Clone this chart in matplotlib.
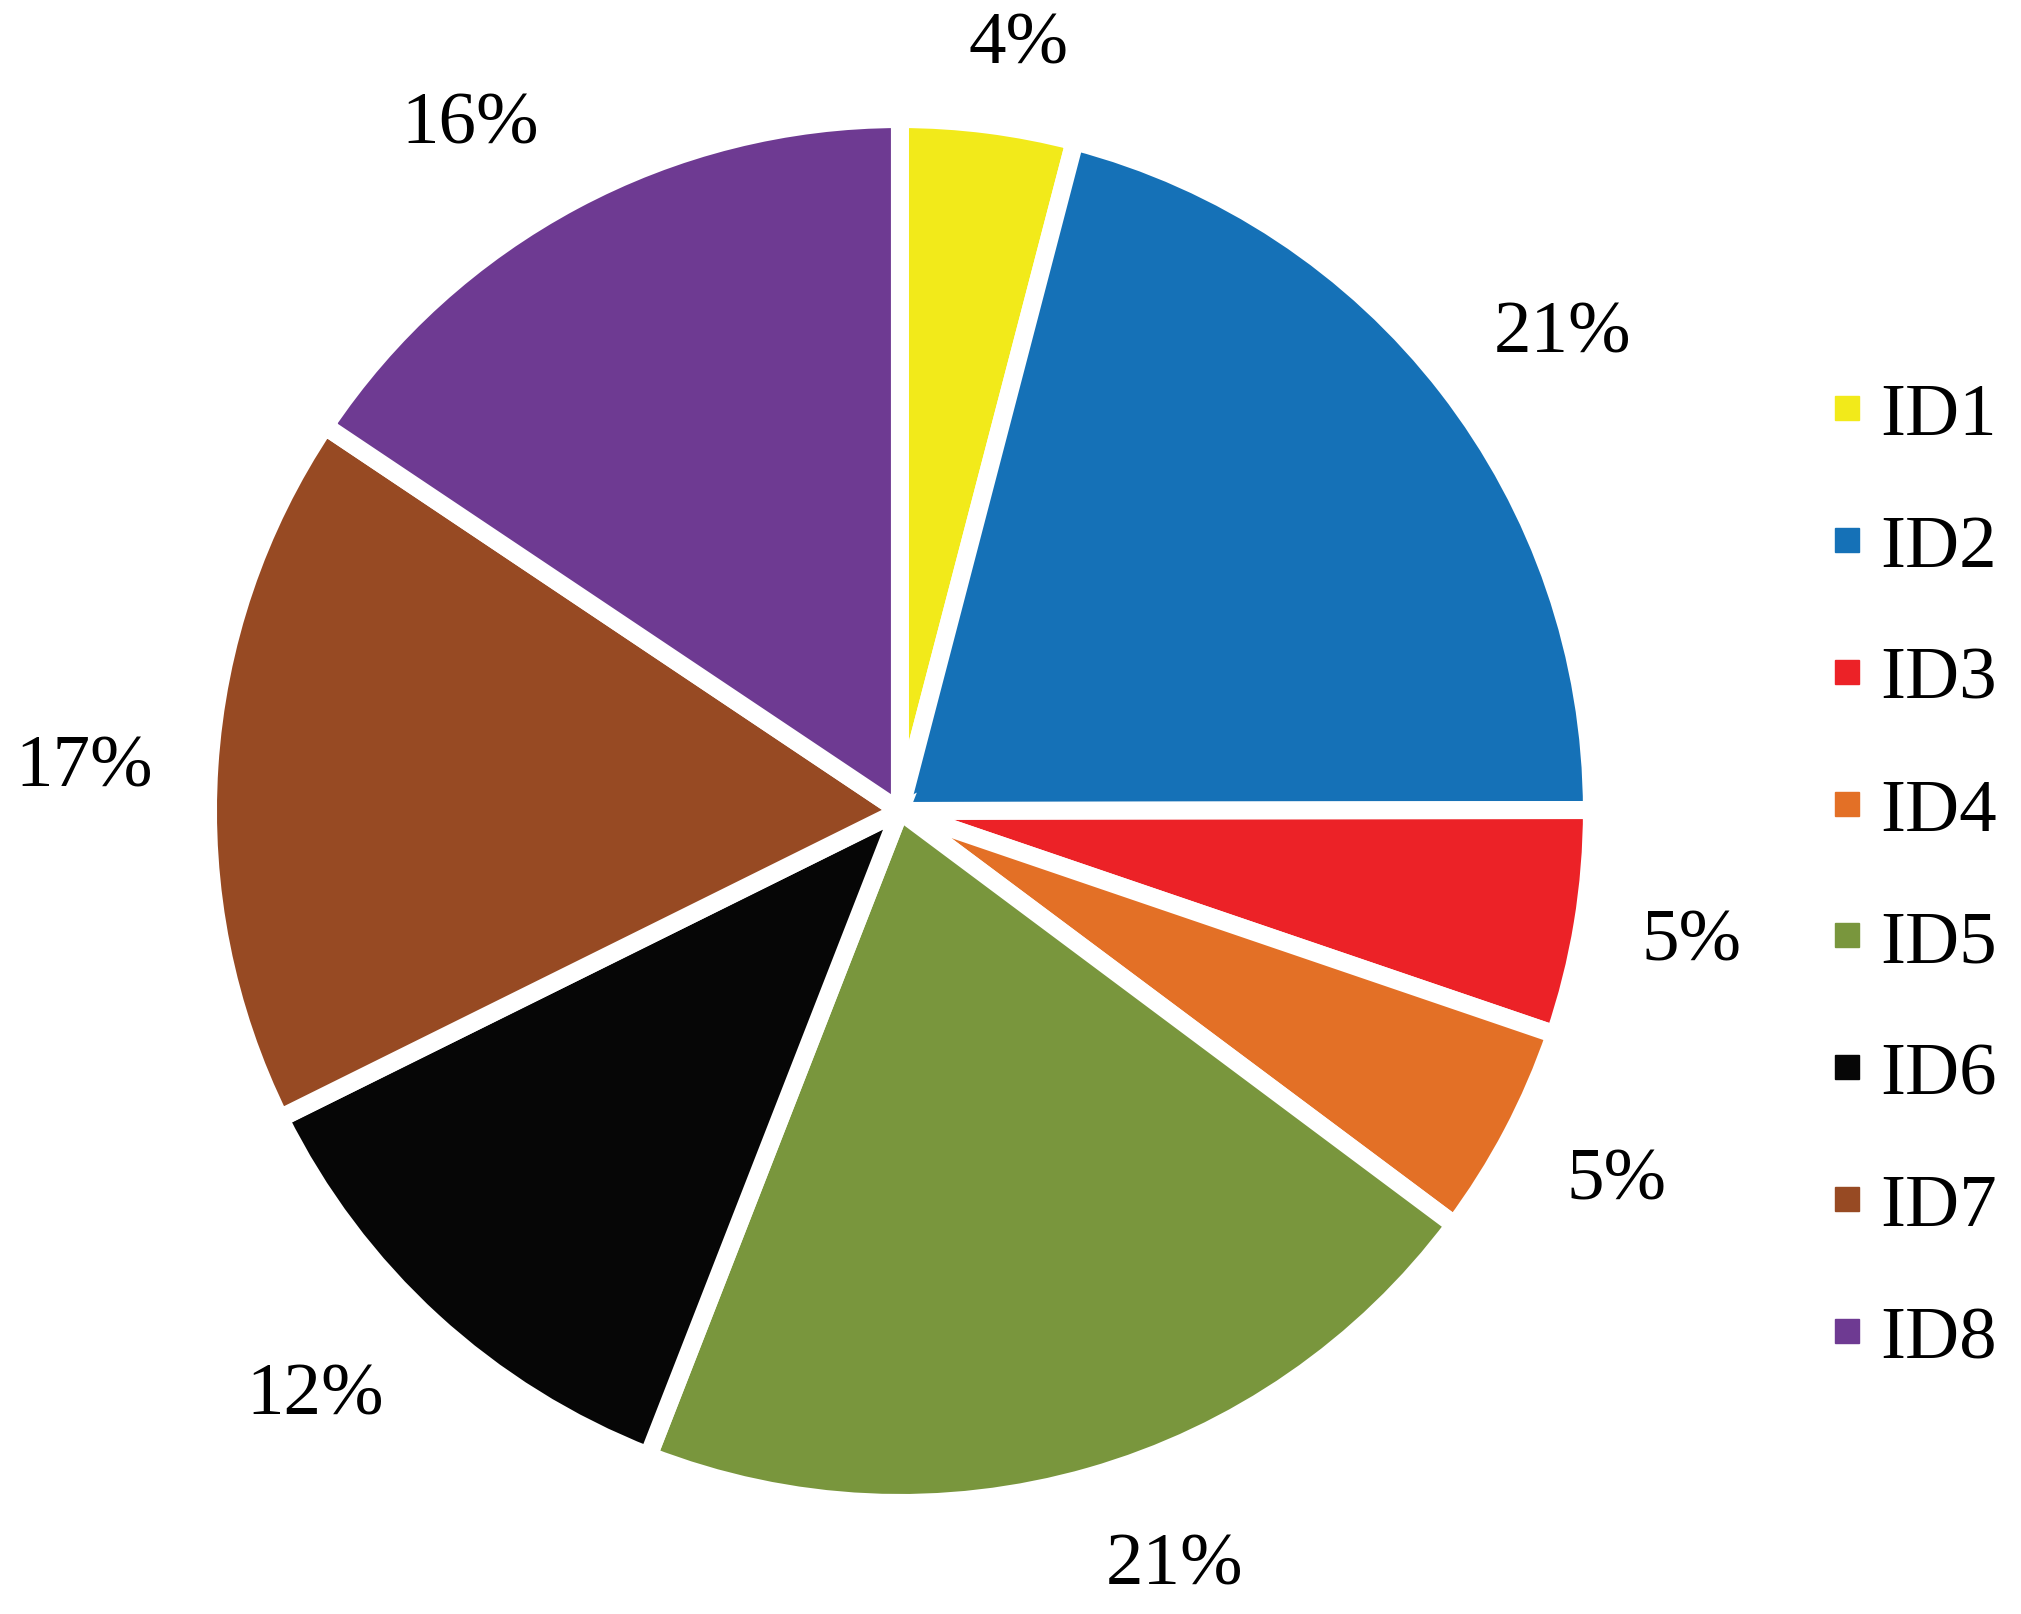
import numpy as np
import matplotlib.pyplot as plt
from matplotlib.lines import Line2D

# donnees
labels = ['ID1', 'ID2', 'ID3', 'ID4', 'ID5', 'ID6', 'ID7', 'ID8']
values = [4.06, 20.9, 5.25, 4.97, 20.7, 11.75, 16.7, 15.6]
colors = ['#F2EA1A', '#1571B7', '#EC2227', '#E37026', '#79963D', '#060606', '#974A23', '#6E3A92']

# position des etiquettes (distance au centre, decalage angulaire en degres)
lab_dist = [1.12, 1.18, 1.16, 1.165, 1.16, 1.195, 1.18, 1.17]
lab_shift = [-1.5, -2, 0, 0.5, 4, -2.5, 0.7, 4]

plt.rcParams['font.family'] = ['Liberation Serif', 'DejaVu Serif']

fig = plt.figure(figsize=(20.21, 16.15), dpi=100)
ax = fig.add_axes([0.1029, 0.0687, 0.6848, 0.857])

wedges, texts, autotexts = ax.pie(values, colors=colors, startangle=90, counterclock=False,
                                  autopct='%.0f%%', pctdistance=1.17,
                                  wedgeprops=dict(edgecolor='white', linewidth=13),
                                  textprops=dict(fontsize=54, color='black'))

# on replace les pourcentages comme dans l'original
for w, t, d, s in zip(wedges, autotexts, lab_dist, lab_shift):
    a = np.deg2rad((w.theta1 + w.theta2) / 2 + s)
    t.set_position((d * np.cos(a), d * np.sin(a)))

ax.set_xlim(-1, 1)
ax.set_ylim(-1, 1)
ax.set_aspect('equal')

handles = [Line2D([], [], marker='s', linestyle='', markersize=17, color=c) for c in colors]
fig.legend(handles, labels, loc='center left', bbox_to_anchor=(0.886, 0.456),
           frameon=False, fontsize=54, handletextpad=0.2, labelspacing=0.845,
           handlelength=0.5, borderpad=0)

plt.savefig('out.png', dpi=100)
